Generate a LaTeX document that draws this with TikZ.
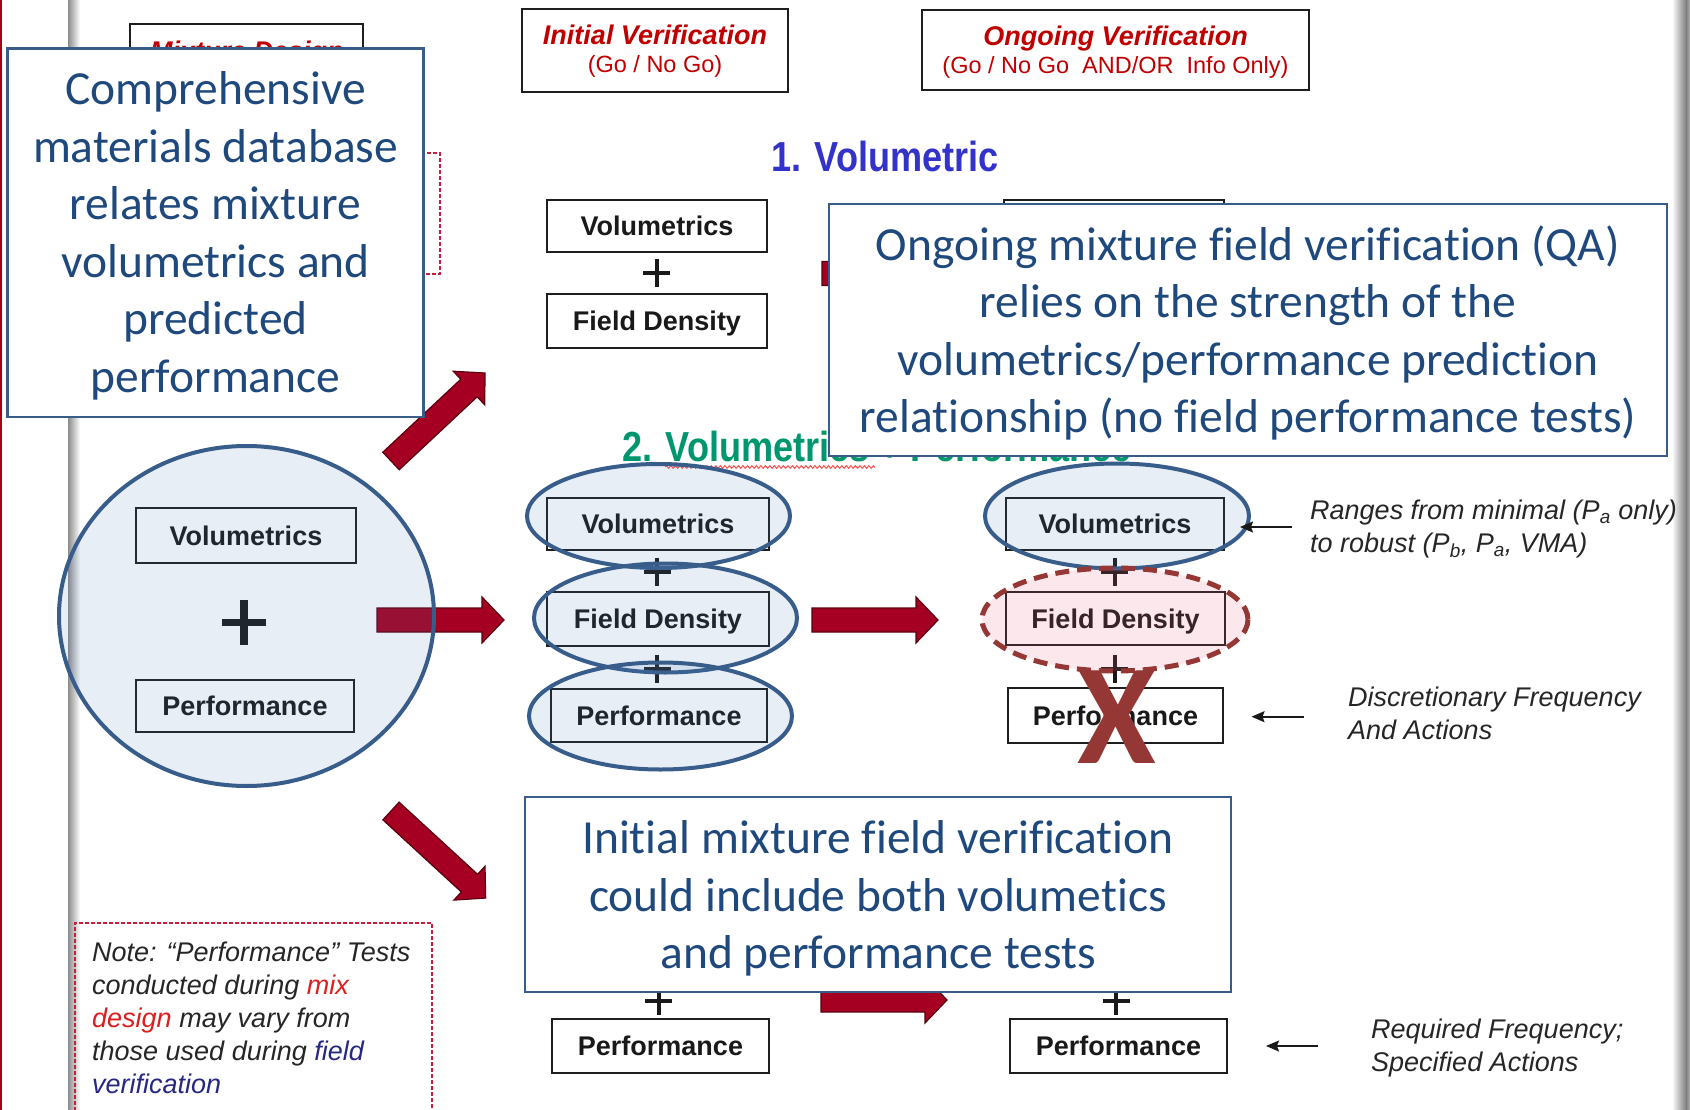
\documentclass[tikz,border=0pt]{standalone}
\usepackage{fontspec}
\setmainfont{Liberation Sans}
\newfontfamily\calib[Ligatures=CommonOff]{Carlito}
\newfontfamily\narrowsans[FakeStretch=0.86]{Liberation Sans}
\usetikzlibrary{shapes.geometric,arrows.meta,decorations.pathmorphing}

\definecolor{cobalt}{RGB}{56,93,138}
\definecolor{calltext}{RGB}{31,73,125}
\definecolor{hdred}{RGB}{192,0,0}
\definecolor{arrred}{RGB}{165,0,33}
\definecolor{arredge}{RGB}{90,0,15}
\definecolor{xred}{RGB}{149,55,53}
\definecolor{ellfill}{RGB}{79,129,189}
\definecolor{pinkfill}{RGB}{230,100,130}
\definecolor{vblue}{RGB}{51,51,204}
\definecolor{vgreen}{RGB}{0,150,110}
\definecolor{notered}{RGB}{220,30,30}
\definecolor{notenavy}{RGB}{40,40,130}
\definecolor{dashred}{RGB}{200,30,60}
\definecolor{boxline}{RGB}{30,30,30}
\definecolor{framered}{RGB}{170,0,20}

\tikzset{
  calloutbox/.style={draw=cobalt,line width=2.5pt,fill=white,inner sep=0pt},
  callouttext/.style={text=calltext,align=center,inner sep=0pt,
    font=\calib\fontsize{47.5}{57.5}\selectfont},
  valbox/.style={draw=boxline,line width=2pt,fill=white,inner sep=0pt,text=black!90,
    font=\bfseries\fontsize{27}{32}\selectfont,text height=19.5pt,text depth=0pt},
  hdrbox/.style={draw=boxline,line width=2pt,fill=white,inner sep=0pt},
  hdrtitle/.style={text=hdred,font=\bfseries\itshape\fontsize{27}{32}\selectfont,inner sep=0pt,anchor=base},
  hdrsub/.style={text=hdred,font=\fontsize{23.5}{28}\selectfont,inner sep=0pt,anchor=base},
  blueell/.style={ellipse,draw=cobalt,line width=4pt,fill=ellfill,fill opacity=0.13,draw opacity=1,inner sep=0pt},
  pinkell/.style={ellipse,draw=xred,line width=5pt,dash pattern=on 14pt off 8pt,fill=pinkfill,fill opacity=0.15,draw opacity=1,inner sep=0pt},
  annot/.style={font=\itshape\fontsize{27}{33}\selectfont,align=left,inner sep=0pt,anchor=north west,text=black!85},
  redarrow/.style={fill=arrred,draw=arredge,line width=1.2pt,line join=miter},
  plusline/.style={line width=4pt,draw=black!90},
  thinarrow/.style={line width=1.6pt,draw=black!90,-{Stealth[length=13pt,width=11pt,inset=2pt]}},
  reddash/.style={draw=dashred,line width=1.5pt,dash pattern=on 4pt off 2pt,inner sep=0pt},
  headfont/.style={anchor=base west,inner sep=0pt,font=\narrowsans\bfseries\fontsize{42}{48}\selectfont},
  blockarr/.pic={\path[redarrow] (0,-12) -- (#1-22,-12) -- (#1-22,-23) -- (#1,0) -- (#1-22,23) -- (#1-22,12) -- (0,12) -- cycle;},
  smallplus/.pic={\draw[plusline] (-13.5,0) -- (13.5,0) (0,-14) -- (0,14);},
  bigplus/.pic={\draw[plusline,line width=7.5pt] (-22,0) -- (22,0) (0,-22.5) -- (0,22.5);}
}

\begin{document}
\begin{tikzpicture}[x=1pt,y=-1pt]
\useasboundingbox (0,0) rectangle (1690,1110);
\clip (0,0) rectangle (1690,1110);
\fill[white] (0,0) rectangle (1690,1110);

% slide frame and shadows
\draw[line width=2pt,draw=framered] (1,0) -- (1,1110);
\shade[left color=black!45,right color=white] (68,0) rectangle (80,1110);
\shade[left color=white,right color=black!50] (1672,0) rectangle (1686,1110);
\shade[left color=black!50,right color=black!30] (1686,0) rectangle (1690,1110);

% headers
\node[hdrbox,minimum width=233pt,minimum height=90pt] (mixBox) at (246.5,69) {};
\node[hdrtitle] (mixT) at (247,60.5) {Mixture Design};
\node[reddash,minimum width=140pt,minimum height=121pt] (mixDash) at (370,213.5) {};

\node[hdrbox,minimum width=266pt,minimum height=83pt] (initBox) at (655,50.5) {};
\node[hdrtitle] (initT) at (655,45) {Initial Verification};
\node[hdrsub] (initS) at (655,72.5) {(Go / No Go)};

\node[hdrbox,minimum width=387pt,minimum height=80pt] (ongBox) at (1115.5,50) {};
\node[hdrtitle] (ongT) at (1115.5,45.5) {Ongoing Verification};
\node[hdrsub] (ongS) at (1115.5,74) {(Go / No Go\ \ AND/OR\ \ Info Only)};

% 1. Volumetric
\node[headfont,text=vblue] (h1) at (771,172) {1. Volumetric};
\node[valbox,minimum width=220pt,minimum height=52pt] (iV1) at (657,226) {Volumetrics};
\node[valbox,minimum width=220pt,minimum height=54pt] (iF1) at (657,321) {Field Density};
\pic (p1) at (656.7,273.3) {smallplus};
\pic (aR1) at (822,273.5) {blockarr=126};
\node[valbox,minimum width=220pt,minimum height=52pt] (oV1) at (1114,226) {};

% 2. Volumetrics + Performance
\node[headfont,text=vgreen] (h2) at (622,461) {2. Volumetrics + Performance};
\coordinate (sqA) at (665,467);
\coordinate (sqB) at (875,467);
\draw[decorate,decoration={snake,amplitude=1.3pt,segment length=4.5pt},draw=red!70,line width=1pt] (sqA) -- (sqB);

% circle group
\pic (aR2a) at (377,620) {blockarr=127};
\node[valbox,minimum width=220pt,minimum height=55pt] (cV) at (246,535.5) {Volumetrics};
\node[valbox,minimum width=218pt,minimum height=52pt] (cP) at (245,706) {Performance};
\pic (cPlus) at (244,622.5) {bigplus};
\node[blueell,minimum width=375pt,minimum height=340pt] (bigC) at (246.5,616) {};

% initial column row 2
\node[valbox,minimum width=222pt,minimum height=52pt] (iV2) at (658,524) {Volumetrics};
\node[valbox,minimum width=222pt,minimum height=54pt] (iF2) at (658,619) {Field Density};
\node[valbox,minimum width=216pt,minimum height=53pt] (iP2) at (659,715.5) {Performance};
\pic (p2) at (657,571.5) {smallplus};
\pic (p3) at (657,669) {smallplus};
\node[blueell,minimum width=263pt,minimum height=104pt] (eIV) at (658.5,516) {};
\node[blueell,minimum width=263pt,minimum height=109pt] (eIF) at (665.5,618) {};
\node[blueell,minimum width=263pt,minimum height=107pt] (eIP) at (660.5,716) {};

\pic (aR2b) at (812,620) {blockarr=126};

% ongoing column row 2
\node[valbox,minimum width=218pt,minimum height=52pt] (oV2) at (1115,524) {Volumetrics};
\node[valbox,minimum width=219pt,minimum height=53pt] (oF2) at (1115.5,618.5) {Field Density};
\node[valbox,minimum width=215pt,minimum height=55pt] (oP2) at (1115.5,715.5) {Performance};
\pic (p4) at (1114.5,572) {smallplus};
\pic (p5) at (1114.5,669) {smallplus};
\node[blueell,minimum width=264pt,minimum height=105pt] (eOV) at (1117,516) {};
\node[pinkell,minimum width=266pt,minimum height=103pt] (eOF) at (1115,619.5) {};
\node[inner sep=0pt,text=xred,font=\calib\bfseries\fontsize{143}{143}\selectfont] (xMark) at (1117,717) {X};

% annotations row 2
\node[annot] (tR) at (1310,500) {Ranges from minimal (P\textsubscript{a} only)\\to robust (P\textsubscript{b}, P\textsubscript{a}, VMA)};
\coordinate (tRtail) at (1292,527);
\coordinate (tRtip) at (1240,527);
\draw[thinarrow] (tRtail) -- (tRtip);
\node[annot] (tD) at (1348,686.5) {Discretionary Frequency\\And Actions};
\coordinate (tDtail) at (1304,716.7);
\draw[thinarrow,shorten >=27.5pt] (tDtail) -- (tDtail -| oP2.east);

% row 3
\node[valbox,minimum width=217pt,minimum height=54pt] (iP3) at (660.5,1046) {Performance};
\node[valbox,minimum width=217pt,minimum height=54pt] (oP3) at (1118.5,1046) {Performance};
\pic (p6) at (658.5,1001) {smallplus};
\pic (p7) at (1116,1001) {smallplus};
\pic (aR3) at (821,1000) {blockarr=126};
\node[annot] (tQ) at (1371,1018.5) {Required Frequency;\\Specified Actions};
\coordinate (tQtail) at (1318,1046);
\draw[thinarrow,shorten >=38pt] (tQtail) -- (tQtail -| oP3.east);

% diagonal arrows
\pic[rotate=43.1] (aUp) at (391,461) {blockarr=128.8};
\pic[rotate=-42.6] (aDn) at (391,811) {blockarr=128.6};

% note
\node[reddash,minimum width=357pt,minimum height=200pt] (noteBox) at (253.5,1023) {};
\node[annot] (noteT) at (92,942) {Note: “Performance” Tests\\conducted during {\color{notered}mix}\\{\color{notered}design} may vary from\\those used during {\color{notenavy}field}\\{\color{notenavy}verification}};

% callouts
\node[calloutbox,minimum width=416pt,minimum height=368.5pt] (cl1) at (215.5,232.8) {};
\node[callouttext] (cl1t) at (215.5,235.8)
  {Comprehensive\\materials database\\relates mixture\\volumetrics and\\predicted\\performance};
\node[calloutbox,minimum width=838pt,minimum height=252pt] (cl2) at (1248,330) {};
\node[callouttext] (cl2t) at (1248,333)
  {Ongoing mixture field verification (QA)\\relies on the strength of the\\volumetrics/performance prediction\\relationship (no field performance tests)};
\node[calloutbox,minimum width=706pt,minimum height=195pt] (cl3) at (878,894.5) {};
\node[callouttext] (cl3t) at (878,898.5)
  {Initial mixture field verification\\could include both volumetics\\and performance tests};
\end{tikzpicture}
\end{document}
